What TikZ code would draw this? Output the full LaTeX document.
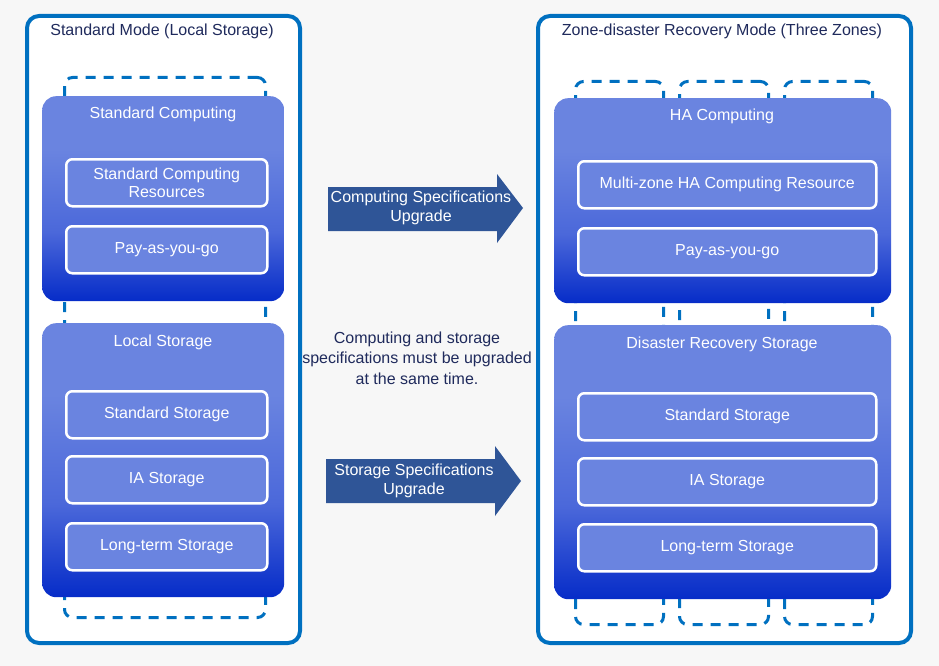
\documentclass[tikz,border=0pt]{standalone}
\usepackage{fontspec}
\setmainfont{Liberation Sans}
\definecolor{bord}{HTML}{0070C0}
\definecolor{gtop}{HTML}{6A84E0}
\definecolor{gmid}{HTML}{4B68DA}
\definecolor{gbot}{HTML}{062CC8}
\definecolor{itemc}{HTML}{6A84E0}
\definecolor{navy}{HTML}{1F2A5C}
\definecolor{arrowc}{HTML}{2F5597}
\definecolor{bg}{HTML}{F7F7F7}
\pgfdeclareverticalshading{bluegrad}{100bp}{color(0bp)=(gbot); color(25bp)=(gbot); color(42bp)=(gmid); color(62bp)=(gtop); color(100bp)=(gtop)}
\begin{document}
\begin{tikzpicture}[x=1pt,y=-1pt,
  outerbox/.style={draw=bord, line width=4pt, rounded corners=12pt, fill=white, anchor=north west, inner sep=0pt},
  zonebox/.style={draw=bord, line width=3pt, dash pattern=on 10pt off 8pt, rounded corners=8pt, anchor=north west, inner sep=0pt},
  groupbox/.style={shading=bluegrad, rounded corners=14pt, anchor=north west, inner sep=0pt},
  itembox/.style={draw=white, line width=2.5pt, fill=itemc, rounded corners=6pt, text=white, align=center, anchor=north west, inner sep=0pt, font=\fontsize{16}{18}\selectfont},
  grouptitle/.style={text=white, font=\fontsize{16}{18}\selectfont},
  maintitle/.style={text=navy, font=\fontsize{16}{18}\selectfont},
  arrowtext/.style={text=white, align=center, font=\fontsize{16}{19}\selectfont},
  upgarrow/.style={fill=arrowc}
]
\useasboundingbox[fill=bg] (0,0) rectangle (939,666);

% outer frames
\node[outerbox, minimum width=273pt, minimum height=627pt] (left) at (25,14) {};
\node[outerbox, minimum width=373pt, minimum height=627pt] (right) at (536,14) {};
\node[maintitle] (lefttitle) at (162,31) {Standard Mode (Local Storage)};
\node[maintitle] (righttitle) at (722,31) {Zone-disaster Recovery Mode (Three Zones)};

% dashed zones
\node[zonebox, minimum width=201pt, minimum height=540pt] (zl) at (63,76) {};
\node[zonebox, minimum width=88pt, minimum height=543pt] (z1) at (574,80) {};
\node[zonebox, minimum width=89pt, minimum height=543pt] (z2) at (678,80) {};
\node[zonebox, minimum width=88pt, minimum height=543pt] (z3) at (783,80) {};

% left groups
\node[groupbox, minimum width=242pt, minimum height=205pt] (gc) at (42,96) {};
\node[grouptitle] (gct) at (163,114) {Standard Computing};
\node[itembox, minimum width=201pt, minimum height=47pt] (scr) at (65,158) {Standard Computing\\Resources};
\node[itembox, minimum width=201pt, minimum height=47pt] (payl) at (65,225) {Pay-as-you-go};

\node[groupbox, minimum width=242pt, minimum height=274pt] (gs) at (42,323) {};
\node[grouptitle] (gst) at (163,342) {Local Storage};
\node[itembox, minimum width=201pt, minimum height=47pt] (ssl) at (65,390) {Standard Storage};
\node[itembox, minimum width=201pt, minimum height=47pt] (ial) at (65,455) {IA Storage};
\node[itembox, minimum width=201pt, minimum height=47pt] (ltl) at (65,522) {Long-term Storage};

% right groups
\node[groupbox, minimum width=337pt, minimum height=205pt] (hc) at (554,98) {};
\node[grouptitle] (hct) at (722,116) {HA Computing};
\node[itembox, minimum width=298pt, minimum height=47pt] (mzr) at (577,160) {Multi-zone HA Computing Resource};
\node[itembox, minimum width=298pt, minimum height=47pt] (payr) at (577,227) {Pay-as-you-go};

\node[groupbox, minimum width=337pt, minimum height=274pt] (dr) at (554,325) {};
\node[grouptitle] (drt) at (722,344) {Disaster Recovery Storage};
\node[itembox, minimum width=298pt, minimum height=47pt] (ssr) at (577,392) {Standard Storage};
\node[itembox, minimum width=298pt, minimum height=47pt] (iar) at (577,457) {IA Storage};
\node[itembox, minimum width=298pt, minimum height=47pt] (ltr) at (577,523) {Long-term Storage};

% arrows
\fill[upgarrow] (328,187) -- (497,187) -- (497,174) -- (523,208) -- (497,243) -- (497,231) -- (328,231) -- cycle;
\node[arrowtext] (ca) at (421,208) {Computing Specifications\\Upgrade};
\fill[upgarrow] (326,459) -- (495,459) -- (495,446) -- (521,481) -- (495,516) -- (495,503) -- (326,503) -- cycle;
\node[arrowtext] (sa) at (414,481) {Storage Specifications\\Upgrade};

\node[text=navy, align=center, font=\fontsize{16}{20.5}\selectfont] (note) at (417,358) {Computing and storage\\specifications must be upgraded\\at the same time.};
\end{tikzpicture}
\end{document}
